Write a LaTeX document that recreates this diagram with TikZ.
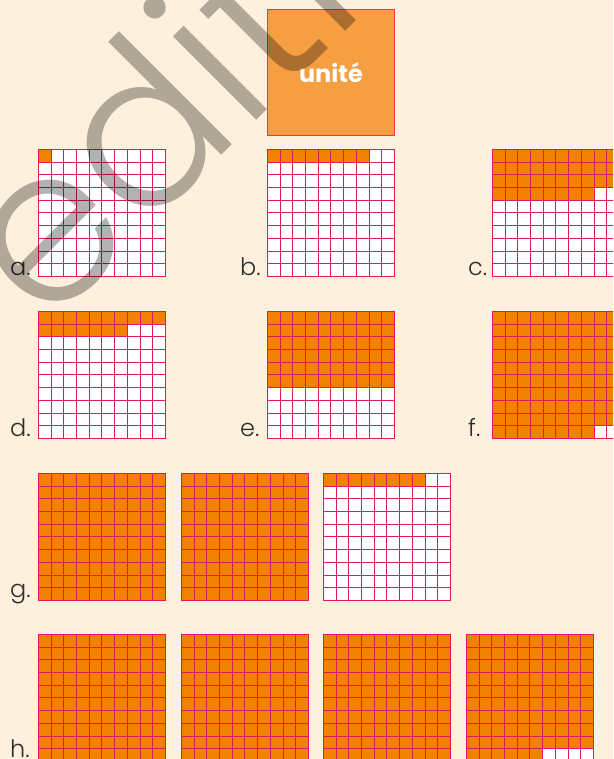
\documentclass[tikz,border=0pt]{standalone}
\usepackage{fontspec}
\setmainfont{Poppins}
\IfFontExistsTF{Poppins Light}{\newfontfamily\wmfont{Poppins Light}\newfontfamily\lblfont{Poppins Light}}{\newfontfamily\wmfont{Poppins}\newfontfamily\lblfont{Poppins}}
\definecolor{bgcream}{RGB}{253,240,220}
\definecolor{cellorange}{RGB}{240,130,0}
\definecolor{unitorange}{RGB}{245,158,66}
\definecolor{gridred}{RGB}{226,24,90}
\definecolor{unitred}{RGB}{232,56,90}
\definecolor{labelgray}{RGB}{45,45,45}
\tikzset{
  gridline/.style={draw=gridred, line width=1.9pt},
  cellfill/.style={fill=cellorange},
  lbl/.style={font=\lblfont\fontsize{24}{24}\selectfont, text=labelgray, inner sep=0pt, anchor=base west},
  unitbox/.style={draw=unitred, line width=1.2pt, fill=unitorange, minimum width=126.5pt, minimum height=126pt, inner sep=0pt},
  unittext/.style={font=\bfseries\fontsize{24}{24}\selectfont, text=white, inner sep=0pt, anchor=base},
  wm/.style={font=\wmfont\fontsize{216}{216}\selectfont, text=black, text opacity=0.3, inner sep=0pt, anchor=base west, rotate=45},
}
\newcommand\hundredgrid[3]{%
  \begin{scope}[shift={(#1,#2)}]
    \fill[white] (0.5,0.5) rectangle (127.5,127.5);
    \foreach \k in {1,...,#3}{%
      \pgfmathtruncatemacro\rowidx{(\k-1)/10}%
      \pgfmathtruncatemacro\colidx{mod(\k-1,10)}%
      \pgfmathsetmacro\xa{round(\colidx*12.7)+0.5}%
      \pgfmathsetmacro\xb{round((\colidx+1)*12.7)+0.5}%
      \pgfmathsetmacro\ya{round(\rowidx*12.7)+0.5}%
      \pgfmathsetmacro\yb{round((\rowidx+1)*12.7)+0.5}%
      \fill[cellfill] (\xa,\ya) rectangle (\xb,\yb);
    }
    \foreach \i in {1,...,9}{%
      \pgfmathsetmacro\pp{round(\i*12.7)+0.5}%
      \draw[gridline] (\pp,0.5) -- (\pp,127.5);
      \draw[gridline] (0.5,\pp) -- (127.5,\pp);
    }
    \draw[gridline] (0.5,0.5) rectangle (127.5,127.5);
  \end{scope}}
\begin{document}
\begin{tikzpicture}[x=1pt,y=-1pt]
  \useasboundingbox (0,0) rectangle (613,759);
  \clip (0,0) rectangle (613,759);
  \fill[bgcream] (0,0) rectangle (613,759);
  % unit
  \node[unitbox] (unit) at (331,72.5) {};
  \node[unittext] (unitlabel) at (331,83) {unité};
  % row 1
  \hundredgrid{38}{149}{1}
  \hundredgrid{267}{149}{8}
  \hundredgrid{492}{149}{38}
  \node[lbl] (la) at (10,275) {a.};
  \node[lbl] (lb) at (240,275) {b.};
  \node[lbl] (lc) at (468,275) {c.};
  % row 2
  \hundredgrid{38}{311}{17}
  \hundredgrid{267}{311}{60}
  \hundredgrid{492}{311}{98}
  \node[lbl] (ld) at (10,436) {d.};
  \node[lbl] (le) at (240,436) {e.};
  \node[lbl] (lf) at (468,436) {f.};
  % row 3
  \hundredgrid{38}{473}{100}
  \hundredgrid{181}{473}{100}
  \hundredgrid{323}{473}{8}
  \node[lbl] (lg) at (10,597) {g.};
  % row 4
  \hundredgrid{38}{634}{100}
  \hundredgrid{181}{634}{100}
  \hundredgrid{323}{634}{100}
  \hundredgrid{466}{634}{96}
  \node[lbl] (lh) at (10,757) {h.};
  % watermark
  \node[wm] (watermark) at (46,331) {edition};
\end{tikzpicture}
\end{document}
